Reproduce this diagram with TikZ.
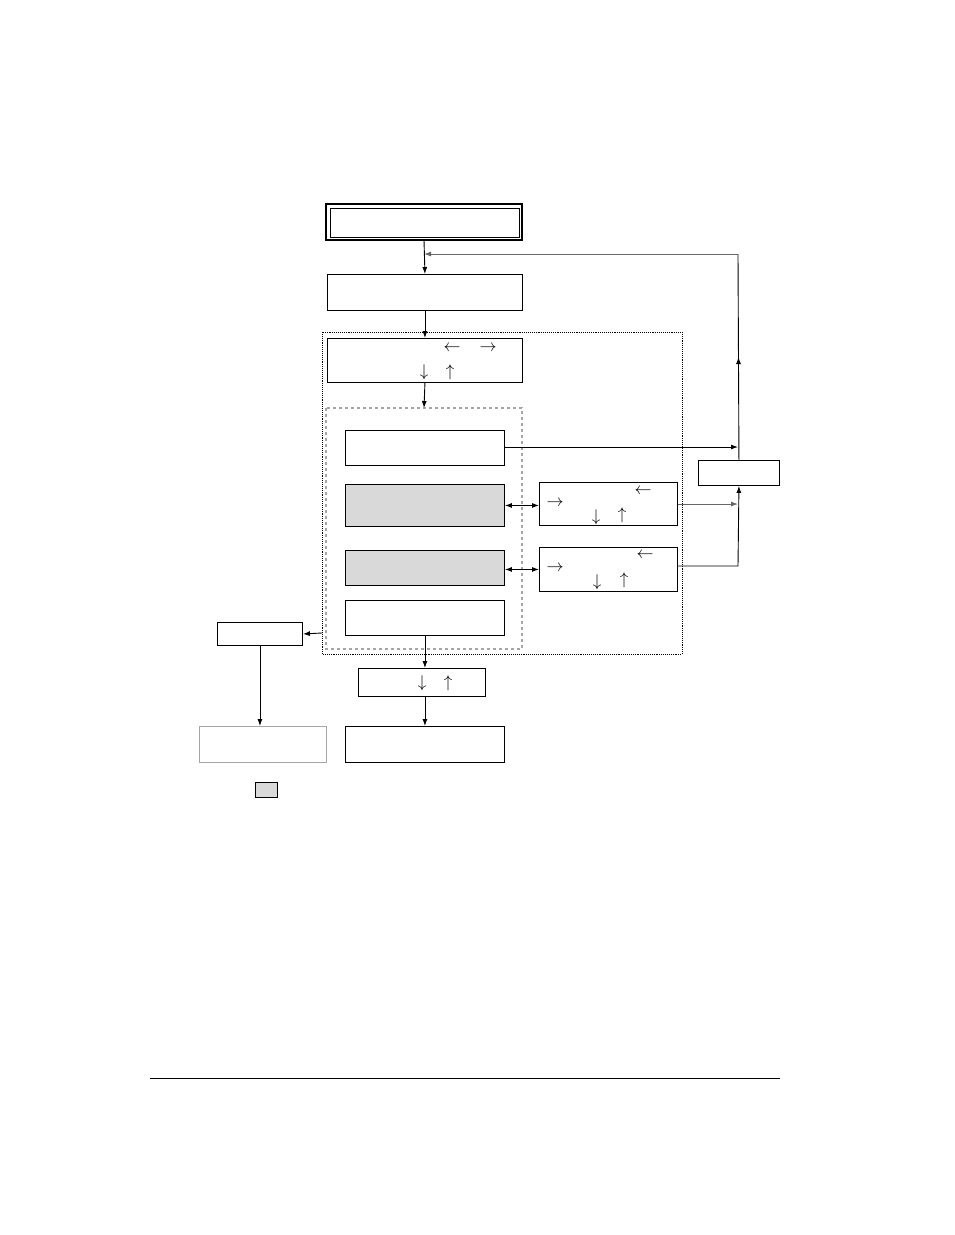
\documentclass[tikz,border=0pt]{standalone}
\usetikzlibrary{arrows.meta,decorations.markings}
\begin{document}
\begin{tikzpicture}[x=1pt,y=-1pt,line width=0.9pt,
  bx/.style={draw,rectangle},
  gbx/.style={draw,fill=black!15},
  arr/.style={-{Latex[length=7pt,width=5pt]}},
  darr/.style={{Latex[length=7pt,width=5pt]}-{Latex[length=7pt,width=5pt]}},
  sym/.style={inner sep=0pt,scale=1.7}]
\useasboundingbox (0,0) rectangle (954,1235);
% boxes
\draw[line width=1.6pt] (326,204) rectangle (522,240);
\node[bx,minimum width=189pt,minimum height=29pt,anchor=north west] (top) at (330,208) {};
\node[bx,minimum width=195pt,minimum height=36pt,anchor=north west] (b2) at (327,274) {};
\draw[densely dotted] (322,332) rectangle (682,654);
\coordinate (dotW) at (322,633);
\node[bx,minimum width=195pt,minimum height=44pt,anchor=north west] (b3) at (327,338) {};
\draw[dashed,gray!70,line width=1.2pt] (326,408) rectangle (522,649);
\coordinate (dashN) at (424,408);
\node[bx,minimum width=159pt,minimum height=35pt,anchor=north west] (b4) at (345,430) {};
\node[gbx,minimum width=159pt,minimum height=42pt,anchor=north west] (b5) at (345,484) {};
\node[gbx,minimum width=159pt,minimum height=35pt,anchor=north west] (b6) at (345,550) {};
\node[bx,minimum width=159pt,minimum height=35pt,anchor=north west] (b7) at (345,600) {};
\node[bx,minimum width=138pt,minimum height=43pt,anchor=north west] (r1) at (539,482) {};
\node[bx,minimum width=138pt,minimum height=44pt,anchor=north west] (r2) at (539,547) {};
\node[bx,minimum width=81pt,minimum height=25pt,anchor=north west] (rb) at (698,460) {};
\node[bx,minimum width=85pt,minimum height=23pt,anchor=north west] (lb) at (217,622) {};
\node[bx,minimum width=127pt,minimum height=28pt,anchor=north west] (b8) at (358,668) {};
\node[bx,minimum width=159pt,minimum height=36pt,anchor=north west] (b9) at (345,726) {};
\node[draw=gray!70,minimum width=127pt,minimum height=36pt,anchor=north west] (lb2) at (199,726) {};
\node[gbx,minimum width=22pt,minimum height=15pt,anchor=north west] (leg) at (255,782) {};
\draw (150,1078) -- (780,1078);
% symbols
\node[sym] (s1) at (452,348) {$\leftarrow$};
\node[sym] (s2) at (488,348) {$\rightarrow$};
\node[sym] (s3) at (424,372) {$\downarrow$};
\node[sym] (s4) at (450,372) {$\uparrow$};
\node[sym] (s5) at (555,503) {$\rightarrow$};
\node[sym] (s6) at (643,491) {$\leftarrow$};
\node[sym] (s7) at (596,517) {$\downarrow$};
\node[sym] (s8) at (622,515) {$\uparrow$};
\node[sym] (s9) at (555,568) {$\rightarrow$};
\node[sym] (s10) at (645,555) {$\leftarrow$};
\node[sym] (s11) at (597,582) {$\downarrow$};
\node[sym] (s12) at (624,580) {$\uparrow$};
\node[sym] (s13) at (422,683) {$\downarrow$};
\node[sym] (s14) at (448,683) {$\uparrow$};
% connectors
\draw[arr] (424,240) -- (b2.north);
\coordinate (fbR) at (738,254);
\coordinate (fbL) at (424,254);
\draw[decoration={markings,mark=at position 0.5 with {\arrow{Latex[length=7pt,width=5pt]}}},postaction=decorate]
  (rb.north) -- (fbR);
\draw[arr,gray!80!black] (fbR) -- (fbL);
\draw[arr] (b2.south) -- (b3.north);
\draw[arr] (b3.south) -- (dashN);
\coordinate (j1) at (738,447);
\coordinate (j2) at (738,504);
\coordinate (j3) at (738,566);
\draw[arr] (b4.east |- j1) -- (j1);
\draw[darr] (b5.east) -- (r1.west |- b5.east);
\draw[darr] (b6.east |- r2.west) -- (r2.west);
\draw[arr,gray!80!black] (r1.east |- j2) -- (j2);
\draw[arr] (r2.east |- j3) -- (j3) -- (rb.south);
\draw[arr] (dotW) -- (lb.east);
\draw[arr] (lb.south) -- (lb2.north -| lb.south);
\draw[arr] (b7.south) -- (b8.north -| b7.south);
\draw[arr] (b8.south -| b7.south) -- (b9.north -| b7.south);
\end{tikzpicture}
\end{document}
